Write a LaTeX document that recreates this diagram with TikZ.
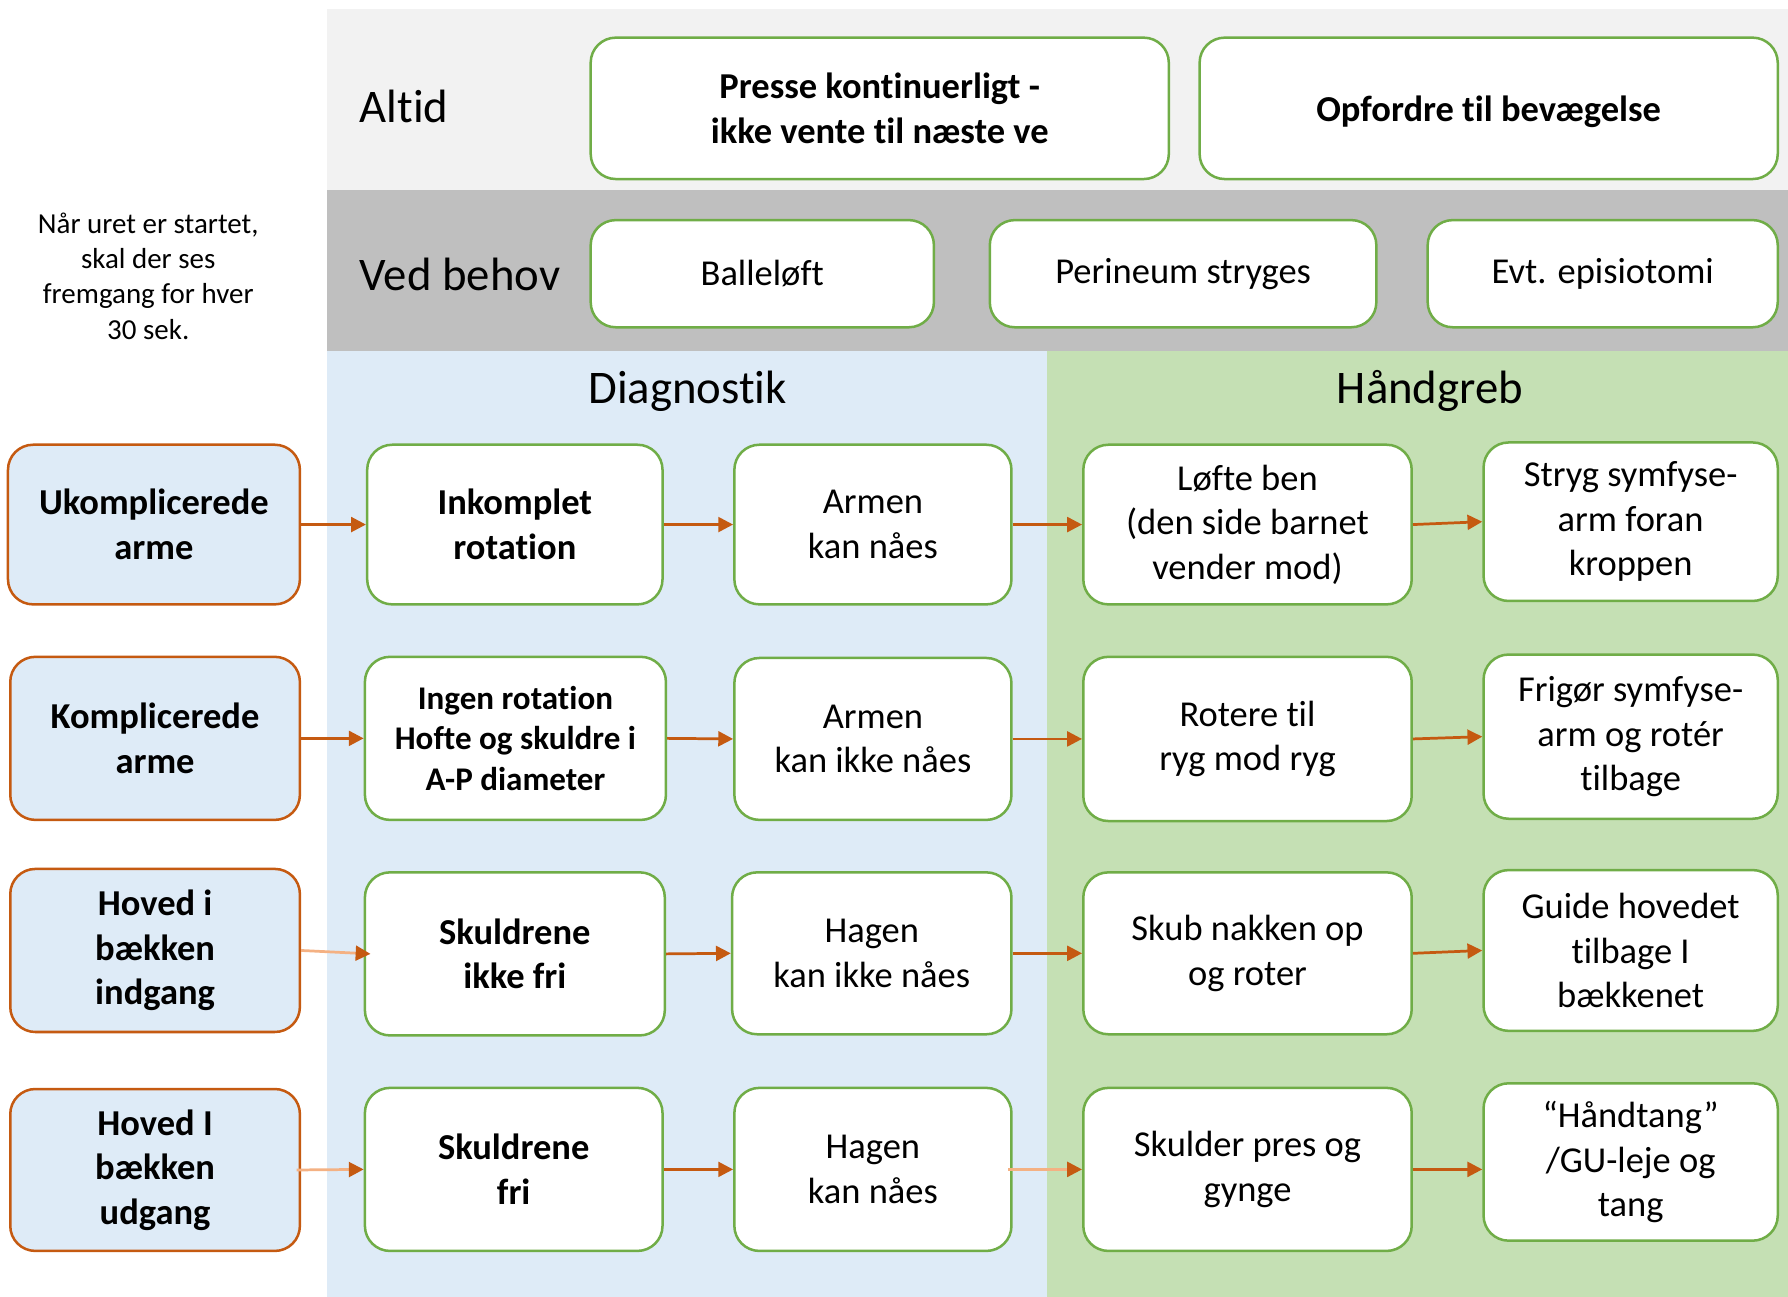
\documentclass[tikz,border=0pt]{standalone}
\usepackage{fontspec}
\setmainfont{Carlito}[Ligatures=NoCommon, RawFeature={-liga;-clig;-calt;-dlig}]
\usetikzlibrary{arrows.meta}
\definecolor{bandL}{HTML}{F2F2F2}
\definecolor{bandD}{HTML}{BFBFBF}
\definecolor{blueF}{HTML}{DEEBF7}
\definecolor{greenF}{HTML}{C5E0B4}
\definecolor{greenB}{HTML}{70AD47}
\definecolor{orA}{HTML}{C55A11}
\definecolor{orP}{HTML}{F4B183}
\tikzset{
  box/.style={rounded corners=11pt, line width=1.1pt, inner sep=0pt, align=center,
    font=\fontsize{16}{19.5}\selectfont},
  gbox/.style={box, draw=greenB, fill=white},
  obox/.style={box, draw=orA, fill=blueF, font=\fontsize{16}{19.5}\selectfont\bfseries},
  arr/.style={draw=orA, line width=1.2pt, -{Triangle[length=6.5pt,width=6.5pt]}},
  arrpale/.style={draw=orP, line width=1.2pt, -{Triangle[length=6.5pt,width=6.5pt,color=orA]}},
  head/.style={font=\fontsize{20.5}{24}\selectfont},
}
\begin{document}
\begin{tikzpicture}[x=0.5pt,y=-0.5pt]
\useasboundingbox (0,0) rectangle (1568,1137);
\fill[white] (0,0) rectangle (1568,1137);
% bands
\fill[bandL] (287,8) rectangle (1568,167);
\fill[bandD] (287,167) rectangle (1568,308);
\fill[blueF] (287,308) rectangle (918,1137);
\fill[greenF] (918,308) rectangle (1568,1137);

% labels
\node[head, anchor=west, inner sep=0pt] (altid) at (315,93) {Altid};
\node[head, anchor=west, inner sep=0pt] (vedb) at (315,241) {Ved behov};
\node[head] (diag) at (603,343) {Diagnostik};
\node[head] (handg) at (1254,343) {Håndgreb};
\node[align=center, font=\fontsize{12.7}{15.5}\selectfont] (side) at (130,242)
  {Når uret er startet,\\skal der ses\\fremgang for hver\\30 sek.};

% top boxes
\node[gbox, minimum width=253.5pt, minimum height=62pt, font=\fontsize{16}{19.5}\selectfont\bfseries] (presse) at (771.5,95)
  {Presse kontinuerligt -\\ikke vente til næste ve};
\node[gbox, minimum width=253.5pt, minimum height=62pt, font=\fontsize{16}{19.5}\selectfont\bfseries] (opf) at (1305.5,95)
  {\raisebox{-1.5pt}[\height][\depth]{Opfordre til bevægelse}};
\node[gbox, minimum width=150.5pt, minimum height=47pt] (balle) at (668.5,240) {Balleløft};
\node[gbox, minimum width=169.5pt, minimum height=47pt] (peri) at (1037.5,240) {Perineum stryges};
\node[gbox, minimum width=153.5pt, minimum height=47pt] (epi) at (1405.5,240) {Evt. episiotomi};

% row 1
\node[obox, minimum width=128pt, minimum height=70pt] (l1) at (135,460) {Ukomplicerede\\arme};
\node[gbox, minimum width=129.5pt, minimum height=70pt, font=\fontsize{16}{19.5}\selectfont\bfseries] (a1) at (451.5,460) {Inkomplet\\rotation};
\node[gbox, minimum width=121.5pt, minimum height=70pt] (b1) at (765.5,460) {Armen\\kan nåes};
\node[gbox, minimum width=144pt, minimum height=70pt] (c1) at (1094,460) {Løfte ben\\(den side barnet\\vender mod)};
\node[gbox, minimum width=129pt, minimum height=69.5pt] (d1) at (1430,457.5) {Stryg symfyse-\\arm foran\\kroppen};

% row 2
\node[obox, minimum width=127pt, minimum height=71.5pt] (l2) at (136,647.5) {Komplicerede\\arme};
\node[gbox, minimum width=132pt, minimum height=71.5pt, font=\fontsize{14.5}{17.7}\selectfont\bfseries] (a2) at (452,647.5) {Ingen rotation\\Hofte og skuldre i\\A-P diameter};
\node[gbox, minimum width=121.5pt, minimum height=71pt] (b2) at (765.5,648) {Armen\\kan ikke nåes};
\node[gbox, minimum width=144pt, minimum height=72pt] (c2) at (1094,648) {Rotere til\\ryg mod ryg};
\node[gbox, minimum width=129pt, minimum height=72pt] (d2) at (1430,646) {Frigør symfyse-\\arm og rotér\\tilbage};

% row 3
\node[obox, minimum width=127pt, minimum height=71.5pt] (l3) at (136,833.5) {Hoved i\\bækken\\indgang};
\node[gbox, minimum width=131.5pt, minimum height=71.5pt, font=\fontsize{16}{19.5}\selectfont\bfseries] (a3) at (451.5,836.5) {Skuldrene\\ikke fri};
\node[gbox, minimum width=122.5pt, minimum height=71pt] (b3) at (764.5,836) {Hagen\\kan ikke nåes};
\node[gbox, minimum width=144pt, minimum height=71pt] (c3) at (1094,836) {Skub nakken op\\og roter};
\node[gbox, minimum width=129pt, minimum height=70.5pt] (d3) at (1430,833.5) {Guide hovedet\\tilbage I\\bækkenet};

% row 4
\node[obox, minimum width=127pt, minimum height=71pt] (l4) at (136,1026) {Hoved I\\bækken\\udgang};
\node[gbox, minimum width=130.5pt, minimum height=71.5pt, font=\fontsize{16}{19.5}\selectfont\bfseries] (a4) at (450.5,1025.5) {Skuldrene\\fri};
\node[gbox, minimum width=121.5pt, minimum height=71.5pt] (b4) at (765.5,1025.5) {Hagen\\kan nåes};
\node[gbox, minimum width=144pt, minimum height=71.5pt] (c4) at (1094,1025.5) {Skulder pres og\\gynge};
\node[gbox, minimum width=129pt, minimum height=69pt] (d4) at (1430,1019) {“Håndtang”\\/GU-leje og\\tang};

% arrows
\draw[arr] (l1.east) -- (a1.west);
\draw[arr] (a1.east) -- (b1.west);
\draw[arr] (b1.east) -- (c1.west);
\draw[arr] (c1.east) -- (d1.west);

\draw[arr] (l2.east) -- (a2.west);
\draw[arr] (a2.east) -- (b2.west);
\draw[arr] (b2.east) -- (c2.west);
\draw[arr] (c2.east) -- (d2.west);

\draw[arrpale] (l3.east) -- ([xshift=3pt]a3.west);
\draw[arr] (a3.east) -- (b3.west);
\draw[arr] (b3.east) -- (c3.west);
\draw[arr] (c3.east) -- (d3.west);

\draw[arrpale] ([xshift=-2pt]l4.east) -- (a4.west);
\draw[arr] (a4.east) -- (b4.west);
\draw[arrpale] ([xshift=-2pt]b4.east) -- (c4.west);
\draw[arr] (c4.east) -- (c4.east -| d4.west);
\end{tikzpicture}
\end{document}
